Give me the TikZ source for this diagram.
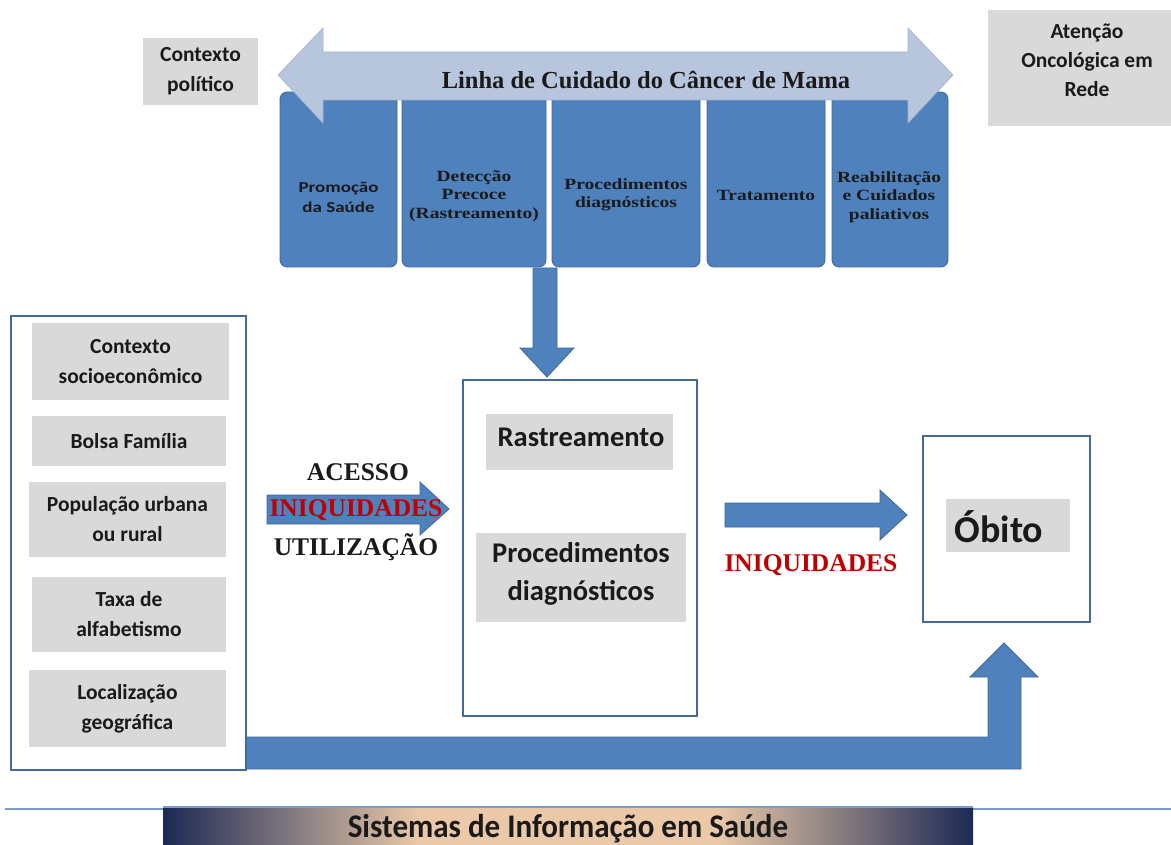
\documentclass[tikz,border=0pt]{standalone}
\usepackage{fontspec}
\setmainfont{Liberation Serif}
\newfontfamily\carl{Carlito}
\definecolor{boxblue}{HTML}{4F81BD}
\definecolor{boxedge}{HTML}{41679C}
\definecolor{lightarrow}{HTML}{B7C5DD}
\definecolor{lightedge}{HTML}{A3B4D0}
\definecolor{grayfill}{HTML}{D9D9D9}
\definecolor{frameblue}{HTML}{46699C}
\definecolor{redtxt}{HTML}{C00000}
\definecolor{navy}{HTML}{1B2A55}
\definecolor{peach}{HTML}{EBC9A8}
\definecolor{rulecol}{HTML}{7B9CCB}
\definecolor{txt}{HTML}{1A1A1A}
\tikzset{
  stage/.style={draw=boxedge, fill=boxblue, rounded corners=7pt, line width=0.8pt,
    inner sep=0pt, minimum height=175pt},
  stagetext/.style={align=center, text=txt, inner sep=0pt, yscale=0.8},
  serifstage/.style={stagetext, font=\bfseries\fontsize{19.5}{23}\selectfont},
  sansstage/.style={stagetext, font=\carl\bfseries\fontsize{19}{25}\selectfont},
  tag/.style={fill=grayfill, inner sep=0pt, align=center, text=txt,
    font=\carl\bfseries\fontsize{21.5}{30}\selectfont},
  bigtag/.style={tag, font=\carl\bfseries\fontsize{28.5}{38}\selectfont},
  frame/.style={draw=frameblue, line width=1.6pt, fill=white, inner sep=0pt},
  blockarrow/.style={fill=boxblue, draw=boxedge, line width=0.8pt},
  caps/.style={font=\bfseries\fontsize{25.5}{28}\selectfont, text=txt, inner sep=0pt},
  redcaps/.style={caps, text=redtxt},
}
\begin{document}
\begin{tikzpicture}[x=1pt, y=-1pt]
\useasboundingbox (0,0) rectangle (1171,845);

% care-line stages
\node[stage, minimum width=117pt] (b1) at (338.5,179.5) {};
\node[stage, minimum width=144pt] (b2) at (474,179.5) {};
\node[stage, minimum width=148pt] (b3) at (626,179.5) {};
\node[stage, minimum width=118pt] (b4) at (766,179.5) {};
\node[stage, minimum width=116pt] (b5) at (890,179.5) {};

\node[sansstage]  (t1) at (338.5,197) {Promoção\\da Saúde};
\node[serifstage] (t2) at (474,196) {Detecção\\Precoce\\(Rastreamento)};
\node[serifstage] (t3) at (626,195) {Procedimentos\\diagnósticos};
\node[serifstage] (t4) at (766,195) {Tratamento};
\node[serifstage] (t5) at (889,197) {Reabilitação\\e Cuidados\\paliativos};

% double arrow over the stages
\filldraw[fill=lightarrow, draw=lightedge, line width=0.6pt]
  (278,75) -- (323,28) -- (323,52) -- (908,52) -- (908,28) -- (953,75)
  -- (908,123) -- (908,100) -- (323,100) -- (323,123) -- cycle;
\node[caps, font=\bfseries\fontsize{24.5}{28}\selectfont] (line) at (646,80)
  {Linha de Cuidado do Câncer de Mama};

% context tags at the top
\node[tag, minimum width=115pt, minimum height=67pt] (pol) at (200.5,71.5)
  {Contexto\\político};
\node[tag, minimum width=183pt, minimum height=116pt] (rede) at (1079.5,68) {};
\node[tag, fill=none, font=\carl\bfseries\fontsize{21.5}{29}\selectfont] (redetxt)
  at (1087,60) {Atenção\\Oncológica em\\Rede};

% determinants
\node[frame, minimum width=235pt, minimum height=454pt] (det) at (128.5,543) {};
\node[tag, minimum width=197pt, minimum height=77pt] (d1) at (130.5,361.5) {Contexto\\socioeconômico};
\node[tag, minimum width=194pt, minimum height=50pt] (d2) at (129,441) {Bolsa Família};
\node[tag, minimum width=197pt, minimum height=75pt] (d3) at (127.5,519.5) {População urbana\\ou rural};
\node[tag, minimum width=194pt, minimum height=75pt] (d4) at (129,614.5) {Taxa de\\alfabetismo};
\node[tag, minimum width=197pt, minimum height=77pt] (d5) at (127.5,708.5) {Localização\\geográfica};

% services
\node[frame, minimum width=234pt, minimum height=336pt] (serv) at (580,548) {};
\node[bigtag, minimum width=187pt, minimum height=56pt] (s1) at (579.5,442) {};
\node[bigtag, fill=none] (s1t) at (581,437) {Rastreamento};
\node[bigtag, minimum width=210pt, minimum height=89pt] (s2) at (581,577.5) {};
\node[bigtag, fill=none] (s2t) at (581,574) {Procedimentos\\diagnósticos};

% outcome
\node[frame, minimum width=167pt, minimum height=186pt] (out) at (1006.5,529) {};
\node[tag, minimum width=124pt, minimum height=53pt] (o1) at (1008,525.5) {};
\node[tag, fill=none, font=\carl\bfseries\fontsize{38}{42}\selectfont] (o1t) at (999,527) {Óbito};

% block arrows
\filldraw[blockarrow] (533,268) -- (557,268) -- (557,348) -- (574,348) -- (547,377)
  -- (520,348) -- (533,348) -- cycle;
\filldraw[blockarrow] (267,495) -- (420,495) -- (420,482) -- (449,509) -- (420,535)
  -- (420,524) -- (267,524) -- cycle;
\filldraw[blockarrow] (725,503) -- (880,503) -- (880,490) -- (907,515) -- (880,540)
  -- (880,527) -- (725,527) -- cycle;
\filldraw[blockarrow] (det.east |- 0,737) -- (988,737) -- (988,677) -- (970,677)
  -- (1004,643) -- (1038,677) -- (1021,677) -- (1021,769) -- (det.east |- 0,769);

% access labels
\node[caps] (acesso) at (358,472) {ACESSO};
\node[redcaps] (iniq1) at (356,510) {INIQUIDADES};
\node[caps] (util) at (356,547) {UTILIZAÇÃO};
\node[redcaps] (iniq2) at (811,565) {INIQUIDADES};

% information systems base
\draw[rulecol, line width=2.2pt] (5,809) -- (1171,809);
\shade[left color=navy, right color=peach] (163,807) rectangle (420,845);
\fill[peach] (419,807) rectangle (717,845);
\shade[left color=peach, right color=navy] (716,807) rectangle (973,845);
\draw[rulecol, line width=2pt] (163,807) -- (973,807);
\node[inner sep=0pt, text=txt, font=\carl\bfseries\fontsize{33}{36}\selectfont, xscale=0.94]
  (sis) at (568,829) {Sistemas de Informação em Saúde};
\end{tikzpicture}
\end{document}
